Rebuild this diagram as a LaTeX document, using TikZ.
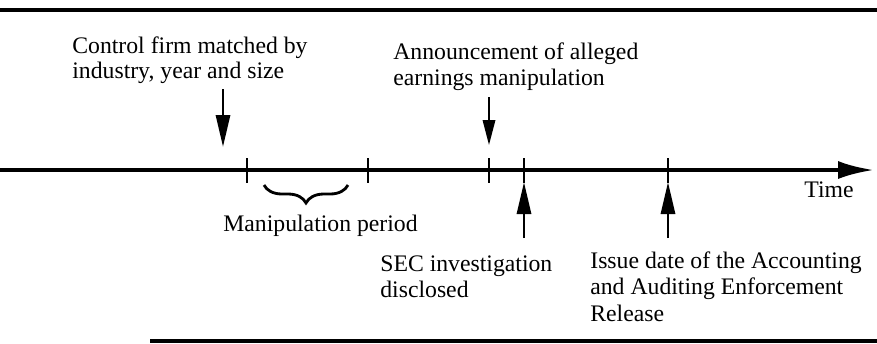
\documentclass[tikz,border=0pt]{standalone}
\usepackage{fontspec}
\setmainfont{Liberation Serif}
\usetikzlibrary{arrows.meta,decorations.pathreplacing}

\tikzset{
  tltext/.style={font=\fontsize{13.5}{15.3}\selectfont, align=left, anchor=north west, inner sep=0pt},
  tick/.style={line width=0.8pt},
  pointer/.style={line width=1.7pt, -{Triangle[length=0.64cm,width=0.28cm]}},
}

\begin{document}
\begin{tikzpicture}[x=0.02cm,y=-0.02cm]
\useasboundingbox (0,0) rectangle (877,343);
% Draw the rules above and below
\draw[line width=2.2pt] (0,10) -- (877,10);
\draw[line width=1.8pt] (150,341) -- (877,341);
% Draw the time axis
\coordinate (start) at (0,170);
\coordinate (end) at (874,170);
\draw[line width=2.4pt, -{Latex[length=0.72cm,width=0.36cm]}] (start) -- (end);
% Mark the dates
\foreach \x/\n in {247/t1, 368/t2, 489/t3, 524/t4, 668/t5} {
  \coordinate (\n) at (\x,170);
  \draw[tick] ([yshift=0.24cm]\n) -- ([yshift=-0.26cm]\n);
}
% Label the events
\node[tltext, font=\fontsize{13.5}{14.6}\selectfont] (ctrl) at (72,36) {Control firm matched by\\industry, year and size};
\node[tltext] (annc) at (393,42) {Announcement of alleged\\earnings manipulation};
\node[tltext] (time) at (804,181) {Time};
\node[tltext] (manip) at (223,215) {Manipulation period};
\node[tltext] (sec) at (380,255) {SEC investigation\\disclosed};
\node[tltext] (aaer) at (590,251) {Issue date of the Accounting\\and Auditing Enforcement\\Release};
% Draw the arrows
\coordinate (ctrlfrom) at (223,89);
\coordinate (ctrlto) at (223,147);
\draw[pointer] (ctrlfrom) -- (ctrlto);
\coordinate (anncfrom) at (489,97);
\coordinate (anncto) at (489,145);
\draw[line width=1pt, -{Triangle[length=0.5cm,width=0.25cm]}] (anncfrom) -- (anncto);
\coordinate (secfrom) at (524,238);
\coordinate (secto) at (524,182);
\draw[pointer] (secfrom) -- (secto);
\coordinate (aaerfrom) at (668,238);
\coordinate (aaerto) at (668,182);
\draw[pointer] (aaerfrom) -- (aaerto);
% Brace under the manipulation period
\draw[decorate, decoration={brace, mirror, amplitude=0.36cm}, line width=1.6pt] (264,185) -- (348,185);
\end{tikzpicture}
\end{document}
